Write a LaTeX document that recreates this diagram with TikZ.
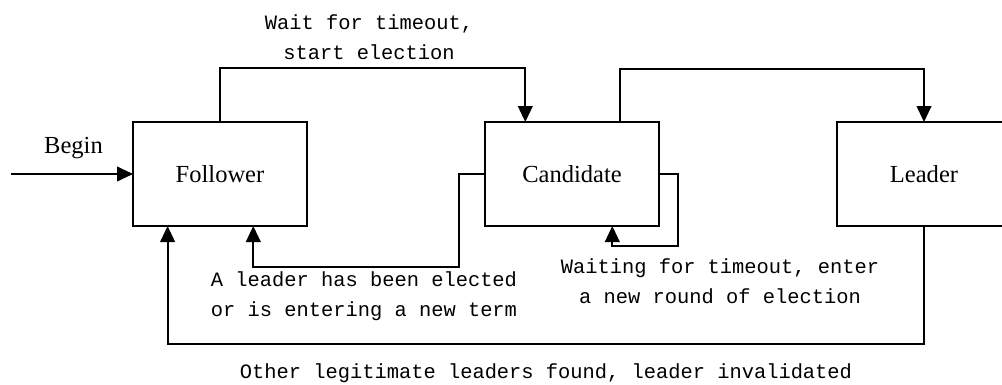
\documentclass[tikz,border=0pt]{standalone}
\usepackage{fontspec}
\setmainfont{Liberation Serif}
\newfontfamily\monof{Liberation Mono}
\usetikzlibrary{arrows.meta,calc}
\tikzset{
  statebox/.style={draw, line width=1.4pt, minimum width=130.5pt, minimum height=78pt, inner sep=0pt, outer sep=0pt, font=\fontsize{18.4}{22}\selectfont},
  seriflabel/.style={inner sep=0pt, font=\fontsize{18.4}{22}\selectfont},
  monolabel/.style={inner sep=0pt, align=center, font=\monof\fontsize{15.3}{22.3}\selectfont},
  conn/.style={line width=1.4pt, ->},
}
\begin{document}
\begin{tikzpicture}[x=0.75pt,y=-0.75pt, >={Triangle[length=12pt,width=11pt]}]
\useasboundingbox (0,0) rectangle (1002,385);
\node[statebox] (F) at (220,174) {Follower};
\node[statebox] (C) at (572,174) {Candidate};
\node[statebox] (L) at (924,174) {Leader};
\coordinate (start) at (11,174);
\draw[conn] (start) -- (F.west);
\node[seriflabel] (begin) at (73.5,148) {Begin};
% Follower -> Candidate
\draw[conn] (F.north) -- ++(0,-54) -| ($(C.north west)+(40.3,0)$);
\node[monolabel] (lab1) at (369,37) {Wait for timeout,\\start election};
% Candidate -> Leader
\draw[conn] ($(C.north west)+(135.3,0)$) -- ++(0,-53) -| (L.north);
% Candidate -> Follower
\draw[conn] (C.west) -- ++(-25.7,0) -- ++(0,93.3) -| ($(F.south west)+(120.3,0)$);
\node[monolabel] (lab2) at (364,296) {A leader has been elected\\or is entering a new term};
% Candidate self loop
\draw[conn] (C.east) -- ++(18.7,0) -- ++(0,72) -| ($(C.south west)+(127.3,0)$);
\node[monolabel] (lab3) at (720,281.5) {Waiting for timeout, enter\\a new round of election};
% Leader -> Follower
\draw[conn] (L.south) -- ++(0,118.3) -| ($(F.south west)+(34.6,0)$);
\node[monolabel] (lab4) at (546,373) {Other legitimate leaders found, leader invalidated};
\end{tikzpicture}
\end{document}
